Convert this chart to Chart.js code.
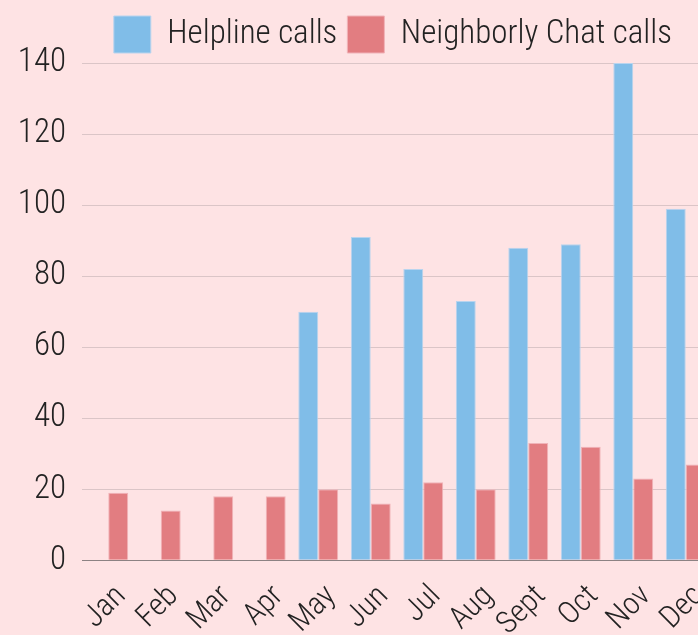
<!DOCTYPE html>
<html>
<head>
    <style>
        html, body { margin: 0; padding: 0; background: #fee3e4; overflow: hidden; }
        #wrap { position: absolute; left: 0; top: 0; width: 752px; height: 653px; }
    </style>
    <script src="https://cdn.jsdelivr.net/npm/chart.js"></script>
</head>
<body>
    <div id="wrap"><canvas id="chart" width="752" height="653"></canvas></div>
    <script>
        // categories and series
        const months = ['Jan', 'Feb', 'Mar', 'Apr', 'May', 'Jun', 'Jul', 'Aug', 'Sept', 'Oct', 'Nov', 'Dec'];
        const helplineCalls = [null, null, null, null, 70, 91, 82, 73, 88, 89, 140, 99];
        const chatCalls = [19, 14, 18, 18, 20, 16, 22, 20, 33, 32, 23, 27];
        const yTicks = [0, 20, 40, 60, 80, 100, 120, 140];

        const FONT = "'Roboto Condensed', Roboto, sans-serif";
        const TEXT = '#222222';

        // paint the pink background behind everything
        const bgPlugin = {
            id: 'bg',
            beforeDraw(chart) {
                const ctx = chart.ctx;
                ctx.save();
                ctx.fillStyle = '#fee3e4';
                ctx.fillRect(0, 0, chart.width, chart.height);
                ctx.restore();
            }
        };

        // legend in the original ends a bit short of the plot's right edge
        const legendShift = {
            id: 'legendShift',
            afterLayout(chart) {
                if (chart.legend) chart.legend.right -= 30;
            }
        };

        new Chart(document.getElementById('chart'), {
            type: 'bar',
            data: {
                labels: months,
                datasets: [{
                    label: 'Helpline calls',
                    data: helplineCalls,
                    backgroundColor: '#80bde8',
                    borderColor: '#b9d4ee',
                    borderWidth: 1
                }, {
                    label: 'Neighborly Chat calls',
                    data: chatCalls,
                    backgroundColor: '#e27d81',
                    borderColor: '#f0b3b8',
                    borderWidth: 1
                }]
            },
            options: {
                responsive: false,
                animation: false,
                categoryPercentage: 0.76,
                barPercentage: 1,
                layout: { padding: { left: 11, right: 40, top: 6, bottom: 0 } },
                plugins: {
                    tooltip: { enabled: false },
                    legend: {
                        position: 'top',
                        align: 'end',
                        labels: {
                            boxWidth: 37,
                            boxHeight: 37,
                            padding: 10,
                            color: TEXT,
                            font: { family: FONT, size: 33, weight: 300 }
                        }
                    }
                },
                scales: {
                    x: {
                        grid: { display: false },
                        border: { display: false },
                        ticks: {
                            autoSkip: false,
                            minRotation: 45,
                            maxRotation: 45,
                            labelOffset: 13,
                            color: TEXT,
                            padding: 10,
                            font: { family: FONT, size: 31, weight: 300 }
                        }
                    },
                    y: {
                        min: 0,
                        max: 140,
                        afterBuildTicks: axis => { axis.ticks = yTicks.map(v => ({ value: v })); },
                        afterFit: axis => { axis.width = 71; },
                        border: { display: false },
                        grid: {
                            drawTicks: false,
                            color: ctx => ctx.tick && ctx.tick.value === 0 ? '#8c8283' : '#dbc5c7',
                            lineWidth: 1
                        },
                        ticks: {
                            padding: 16,
                            color: TEXT,
                            font: { family: FONT, size: 33, weight: 300 }
                        }
                    }
                }
            },
            plugins: [bgPlugin, legendShift]
        });
    </script>
</body>
</html>
